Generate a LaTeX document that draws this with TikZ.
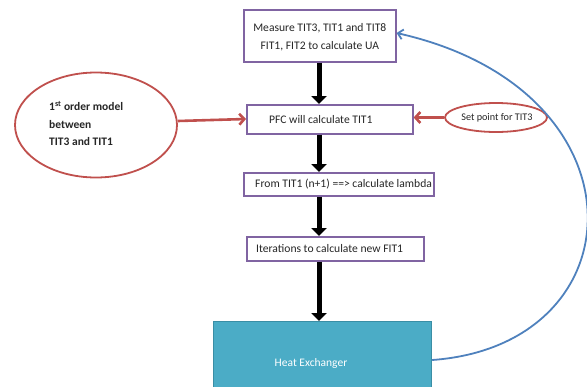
\documentclass[tikz,border=0pt]{standalone}
\usepackage{fontspec}
\setmainfont{Carlito}
\usetikzlibrary{arrows.meta,shapes.geometric}
\definecolor{boxpurple}{HTML}{8064A2}
\definecolor{accred}{HTML}{C0504D}
\definecolor{accblue}{HTML}{4F81BD}
\definecolor{hxfill}{HTML}{4BACC6}
\definecolor{hxline}{HTML}{3A8EA5}
\tikzset{
  box/.style={draw=boxpurple, line width=1.6pt, fill=white, rectangle, inner sep=0pt, anchor=north west},
  lbl/.style={font=\fontsize{11.6}{18}\selectfont, inner sep=0pt, text=black!85},
  redell/.style={draw=accred, line width=1.8pt, ellipse, fill=white, inner sep=0pt},
  flow/.style={line width=5pt, -{Triangle[width=15pt,length=8pt]}},
  redarrow/.style={draw=accred, line width=2.6pt, -{Straight Barb[length=5pt,width=11pt]}},
  bluearrow/.style={draw=accblue, line width=1.8pt, -{Straight Barb[length=5pt,width=10pt]}}
}
\begin{document}
\begin{tikzpicture}[x=1pt,y=-1pt]
\useasboundingbox (0,0) rectangle (587,386);

% process boxes
\node[box, minimum width=152pt, minimum height=52pt] (b1) at (243,9) {};
\node[lbl, align=center] (t1) at ([yshift=-1pt]b1.center)
  {Measure TIT3, TIT1 and TIT8\\FIT1, FIT2 to calculate UA};
\node[box, minimum width=166pt, minimum height=29pt] (b2) at (246,104) {};
\node[lbl, anchor=west] (t2) at ([xshift=23pt]b2.west) {PFC will calculate TIT1};
\node[box, minimum width=190pt, minimum height=23pt] (b3) at (243,172) {};
\node[lbl, anchor=west] (t3) at ([xshift=12pt]b3.west) {From TIT1 (n+1) ==> calculate lambda};
\node[box, minimum width=177pt, minimum height=24pt] (b4) at (246,236) {};
\node[lbl, anchor=west] (t4) at ([xshift=10pt]b4.west) {Iterations to calculate new FIT1};

% heat exchanger block (runs off the lower edge)
\node[draw=hxline, fill=hxfill, line width=1.2pt, rectangle, inner sep=0pt,
      minimum width=218pt, minimum height=75pt, anchor=north west] (hx) at (213,321) {};
\node[font=\fontsize{11.5}{12}\selectfont, text=white, inner sep=0pt] (thx) at (311,363) {Heat Exchanger};

% side ellipses
\node[redell, minimum width=162pt, minimum height=105pt] (e1) at (96,125) {};
\node[font=\bfseries\fontsize{11.5}{17.5}\selectfont, align=left, anchor=north west, inner sep=0pt, text=black!85]
  (te1) at (49,101) {1\textsuperscript{st} order model\\between\\TIT3 and TIT1};
\node[redell, minimum width=102pt, minimum height=29pt] (e2) at (496,117.5) {};
\node[font=\fontsize{10.2}{12}\selectfont, text=black!85, inner sep=0pt] (te2) at ([xshift=1pt]e2.center) {Set point for TIT3};

% main flow
\draw[flow] (b1.south -| 319,0) -- (b2.north -| 319,0);
\draw[flow] (b2.south -| 319,0) -- (b3.north -| 319,0);
\draw[flow] (b3.south -| 319,0) -- (b4.north -| 319,0);
\draw[flow] (b4.south -| 319,0) -- (hx.north -| 319,0);

% inputs to the PFC
\draw[redarrow] (e1.east |- 0,121) -- (b2.west |- 0,119);
\draw[redarrow] (e2.west) -- (b2.east |- e2.west);

% feedback loop
\coordinate (hxout) at (hx.east |- 0,360);
\draw[bluearrow] (hxout) .. controls (640,345) and (650,90) .. (b1.east |- 0,33);
\end{tikzpicture}
\end{document}
